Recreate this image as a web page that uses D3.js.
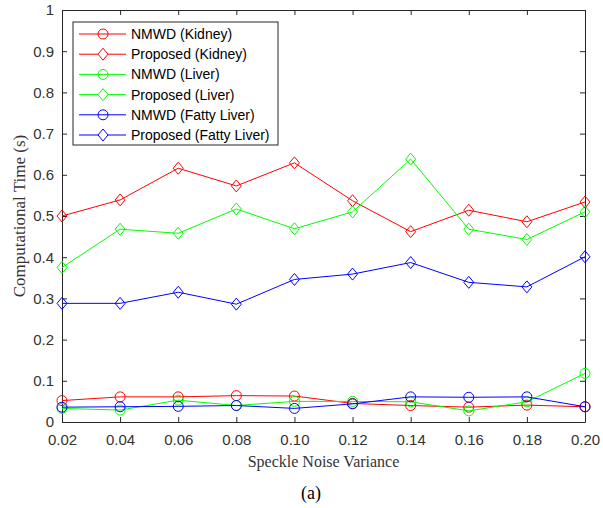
<!DOCTYPE html>
<html>
<head>
<meta charset="utf-8">
<script src="https://cdn.jsdelivr.net/npm/d3@7"></script>
<style>
    body { margin: 0; background: #fff; }
    .tick text { font-family: "Liberation Sans", Arial, sans-serif; font-size: 15px; fill: #333; }
    .legendText { font-family: "Liberation Sans", Arial, sans-serif; font-size: 14px; fill: #000; }
    .axisLabel { font-family: "Liberation Serif", "Times New Roman", serif; fill: #333; }
</style>
</head>
<body>
<div id="chart"></div>
<script>
// Data.
const variance = [0.02, 0.04, 0.06, 0.08, 0.10, 0.12, 0.14, 0.16, 0.18, 0.20];
const xTickLabels = ['0.02', '0.04', '0.06', '0.08', '0.10', '0.12', '0.14', '0.16', '0.18', '0.20'];
const yTicks = [0, 0.1, 0.2, 0.3, 0.4, 0.5, 0.6, 0.7, 0.8, 0.9, 1];
const nmwdKidney = [0.052, 0.061, 0.061, 0.064, 0.063, 0.045, 0.040, 0.036, 0.041, 0.037];
const proposedKidney = [0.500, 0.539, 0.616, 0.573, 0.629, 0.537, 0.462, 0.514, 0.486, 0.534];
const nmwdLiver = [0.033, 0.029, 0.053, 0.040, 0.050, 0.050, 0.049, 0.027, 0.049, 0.118];
const proposedLiver = [0.375, 0.468, 0.458, 0.517, 0.469, 0.510, 0.638, 0.468, 0.443, 0.510];
const nmwdFatty = [0.036, 0.037, 0.038, 0.040, 0.033, 0.044, 0.061, 0.060, 0.061, 0.037];
const proposedFatty = [0.288, 0.288, 0.315, 0.286, 0.346, 0.359, 0.387, 0.339, 0.328, 0.401];

const series = [
    {name: 'NMWD (Kidney)', values: nmwdKidney, color: '#ff0000', marker: 'circle'},
    {name: 'Proposed (Kidney)', values: proposedKidney, color: '#ff0000', marker: 'diamond'},
    {name: 'NMWD (Liver)', values: nmwdLiver, color: '#00ff00', marker: 'circle'},
    {name: 'Proposed (Liver)', values: proposedLiver, color: '#00ff00', marker: 'diamond'},
    {name: 'NMWD (Fatty Liver)', values: nmwdFatty, color: '#0000ff', marker: 'circle'},
    {name: 'Proposed (Fatty Liver)', values: proposedFatty, color: '#0000ff', marker: 'diamond'}
];

const width = 603, height = 508;
const margin = {top: 10, right: 18, bottom: 86, left: 62};
const plotWidth = width - margin.left - margin.right,
    plotHeight = height - margin.top - margin.bottom;
const axisColor = '#262626';

// Create the SVG area.
var svg = d3.select('#chart').append('svg')
    .attr('width', width)
    .attr('height', height);
var g = svg.append('g')
    .attr('transform', 'translate(' + margin.left + ',' + margin.top + ')');

// Scales.
var x = d3.scaleLinear().domain([0.02, 0.20]).range([0, plotWidth]);
var y = d3.scaleLinear().domain([0, 1]).range([plotHeight, 0]);

// Axes with inward ticks (MATLAB box style).
var xAxis = d3.axisBottom(x).tickValues(variance)
    .tickFormat(function (d, i) {return xTickLabels[i];})
    .tickSizeInner(-5).tickSizeOuter(0).tickPadding(12);
var yAxis = d3.axisLeft(y).tickValues(yTicks)
    .tickFormat(function (d) {return d === 0 || d === 1 ? d3.format('d')(d) : d3.format('.1f')(d);})
    .tickSizeInner(-5).tickSizeOuter(0).tickPadding(8);
var gx = g.append('g').attr('transform', 'translate(0,' + plotHeight + ')').call(xAxis);
var gy = g.append('g').call(yAxis);
// Top and right ticks without labels.
var gxTop = g.append('g').call(d3.axisTop(x).tickValues(variance).tickFormat('')
    .tickSizeInner(-5).tickSizeOuter(0));
var gyRight = g.append('g').attr('transform', 'translate(' + plotWidth + ',0)')
    .call(d3.axisRight(y).tickValues(yTicks).tickFormat('')
    .tickSizeInner(-5).tickSizeOuter(0));
[gx, gy, gxTop, gyRight].forEach(function (a) {
    a.selectAll('.domain').attr('stroke', axisColor);
    a.selectAll('.tick line').attr('stroke', axisColor);
});

// Lines and markers.
var line = d3.line()
    .x(function (d, i) {return x(variance[i]);})
    .y(function (d) {return y(d);});
var diamond = 'M0,-6L5,0L0,6L-5,0Z';

series.forEach(function (s) {
    g.append('path')
        .attr('d', line(s.values))
        .attr('fill', 'none')
        .attr('stroke', s.color)
        .attr('stroke-width', 1);
    var marks = g.selectAll(null)
        .data(s.values)
        .enter();
    if (s.marker === 'circle') {
        marks.append('circle')
            .attr('cx', function (d, i) {return x(variance[i]);})
            .attr('cy', function (d) {return y(d);})
            .attr('r', 5)
            .attr('fill', 'none')
            .attr('stroke', s.color);
    } else {
        marks.append('path')
            .attr('transform', function (d, i) {return 'translate(' + x(variance[i]) + ',' + y(d) + ')';})
            .attr('d', diamond)
            .attr('fill', 'none')
            .attr('stroke', s.color);
    }
});

// Legend.
var legend = g.append('g').attr('transform', 'translate(11,12)');
legend.append('rect')
    .attr('width', 205)
    .attr('height', 123)
    .attr('fill', '#fff')
    .attr('stroke', axisColor);
series.forEach(function (s, i) {
    var row = legend.append('g').attr('transform', 'translate(0,' + (12 + i * 20.2) + ')');
    row.append('line')
        .attr('x1', 6).attr('x2', 53)
        .attr('stroke', s.color);
    if (s.marker === 'circle') {
        row.append('circle').attr('cx', 30).attr('r', 5)
            .attr('fill', 'none').attr('stroke', s.color);
    } else {
        row.append('path').attr('transform', 'translate(30,0)').attr('d', diamond)
            .attr('fill', '#fff').attr('stroke', s.color);
    }
    row.append('text')
        .attr('class', 'legendText')
        .attr('x', 58)
        .attr('dy', '0.35em')
        .text(s.name);
});

// Axis labels and caption.
svg.append('text')
    .attr('class', 'axisLabel')
    .attr('x', margin.left + plotWidth / 2)
    .attr('y', 467)
    .attr('text-anchor', 'middle')
    .style('font-size', '16px')
    .text('Speckle Noise Variance');
svg.append('text')
    .attr('class', 'axisLabel')
    .attr('transform', 'translate(25,' + (margin.top + plotHeight / 2) + ')rotate(-90)')
    .attr('text-anchor', 'middle')
    .style('font-size', '17px')
    .text('Computational Time (s)');
svg.append('text')
    .attr('x', 311)
    .attr('y', 499)
    .attr('text-anchor', 'middle')
    .style('font-family', '"Liberation Serif", "Times New Roman", serif')
    .style('font-size', '18px')
    .attr('fill', '#000')
    .text('(a)');
</script>
</body>
</html>
